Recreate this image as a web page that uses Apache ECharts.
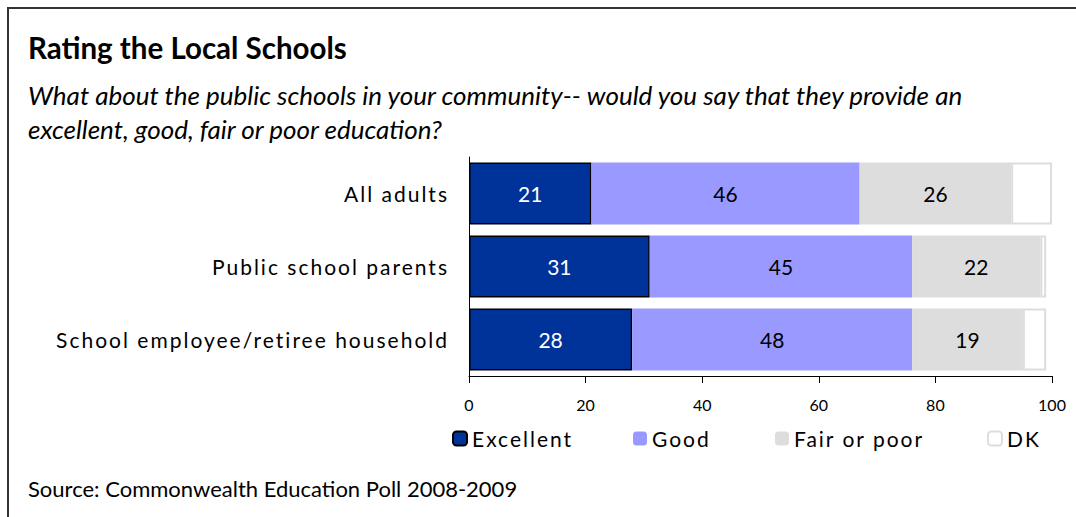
<!DOCTYPE html>
<html>
<head>
<meta charset="utf-8">
<script src="https://cdn.jsdelivr.net/npm/echarts@6/dist/echarts.min.js"></script>
<style>
  html, body { margin: 0; padding: 0; background: #fff; }
  #chart { width: 1076px; height: 517px; }
  /* spaced lettering for axis category labels and legend entries */
  #chart text[style*="sans-serif"] { letter-spacing: 2px; }
</style>
</head>
<body>
<div id="chart"></div>
<script>
// Survey groups (top to bottom)
const categories = ['All adults', 'Public school parents', 'School employee/retiree household'];

// Percent answering each rating
const excellent = [21, 31, 28];
const good = [46, 45, 48];
const fairOrPoor = [26, 22, 19];
const dontKnow = [7, 1, 4];

const seriesNames = ['Excellent', 'Good', 'Fair or poor', 'DK'];
const xTicks = [0, 20, 40, 60, 80, 100];

const titleText = 'Rating the Local Schools';
const questionLines = [
  'What about the public schools in your community-- would you say that they provide an',
  'excellent, good, fair or poor education?'
];
const sourceText = 'Source: Commonwealth Education Poll 2008-2009';

const PLAIN = 'Lato';
const SPACED = 'Lato, sans-serif';

const chart = echarts.init(document.getElementById('chart'), null, { renderer: 'svg' });

function valueLabel(color) {
  return {
    show: true,
    position: 'inside',
    color: color,
    fontFamily: PLAIN,
    fontSize: 21
  };
}

const legendLefts = [447, 628, 770, 982];

chart.setOption({
  animation: false,
  title: [
    { text: titleText, left: 23, top: 27,
      textStyle: { fontFamily: PLAIN, fontWeight: 'bold', fontSize: 29.5, color: '#000' } },
    { text: questionLines[0], left: 23, top: 77,
      textStyle: { fontFamily: PLAIN, fontStyle: 'italic', fontWeight: 'normal', fontSize: 26, color: '#000' } },
    { text: questionLines[1], left: 23, top: 111,
      textStyle: { fontFamily: PLAIN, fontStyle: 'italic', fontWeight: 'normal', fontSize: 26, color: '#000' } },
    { text: sourceText, left: 23, top: 472,
      textStyle: { fontFamily: PLAIN, fontWeight: 'normal', fontSize: 22, color: '#000' } }
  ],
  graphic: [
    { type: 'rect', silent: true,
      shape: { x: 8, y: 8, width: 1300, height: 1300 },
      style: { fill: 'none', stroke: '#333', lineWidth: 2 } }
  ],
  legend: seriesNames.map((name, i) => ({
    data: [name],
    left: legendLefts[i],
    top: 423,
    itemWidth: 14,
    itemHeight: 14,
    itemGap: 0,
    selectedMode: false,
    textStyle: { fontFamily: SPACED, fontSize: 21, color: '#000' }
  })),
  grid: { left: 469, right: 24, top: 157, bottom: 141, containLabel: false },
  xAxis: {
    type: 'value',
    min: 0,
    max: 100,
    interval: 20,
    axisLine: { show: true, lineStyle: { color: '#000', width: 1 } },
    axisTick: { show: true, length: 7, lineStyle: { color: '#000' } },
    splitLine: { show: false },
    axisLabel: {
      fontFamily: PLAIN, fontSize: 16, color: '#000', margin: 20,
      formatter: v => (xTicks.includes(v) ? String(v) : '')
    }
  },
  yAxis: {
    type: 'category',
    inverse: true,
    data: categories,
    axisLine: { show: true, lineStyle: { color: '#000', width: 1 } },
    axisTick: { show: false },
    axisLabel: { fontFamily: SPACED, fontSize: 21, color: '#000', margin: 20 }
  },
  series: [
    { name: seriesNames[0], type: 'bar', stack: 'all', data: excellent,
      barCategoryGap: '15%',
      itemStyle: { color: '#003399', borderColor: '#000', borderWidth: 1.5 },
      label: valueLabel('#fff') },
    { name: seriesNames[1], type: 'bar', stack: 'all', data: good,
      itemStyle: { color: '#9999FF' },
      label: valueLabel('#000') },
    { name: seriesNames[2], type: 'bar', stack: 'all', data: fairOrPoor,
      itemStyle: { color: '#DDDDDD' },
      label: valueLabel('#000') },
    { name: seriesNames[3], type: 'bar', stack: 'all', data: dontKnow,
      itemStyle: { color: '#FFFFFF', borderColor: '#DDDDDD', borderWidth: 2 },
      label: { show: false } }
  ]
});
</script>
</body>
</html>
